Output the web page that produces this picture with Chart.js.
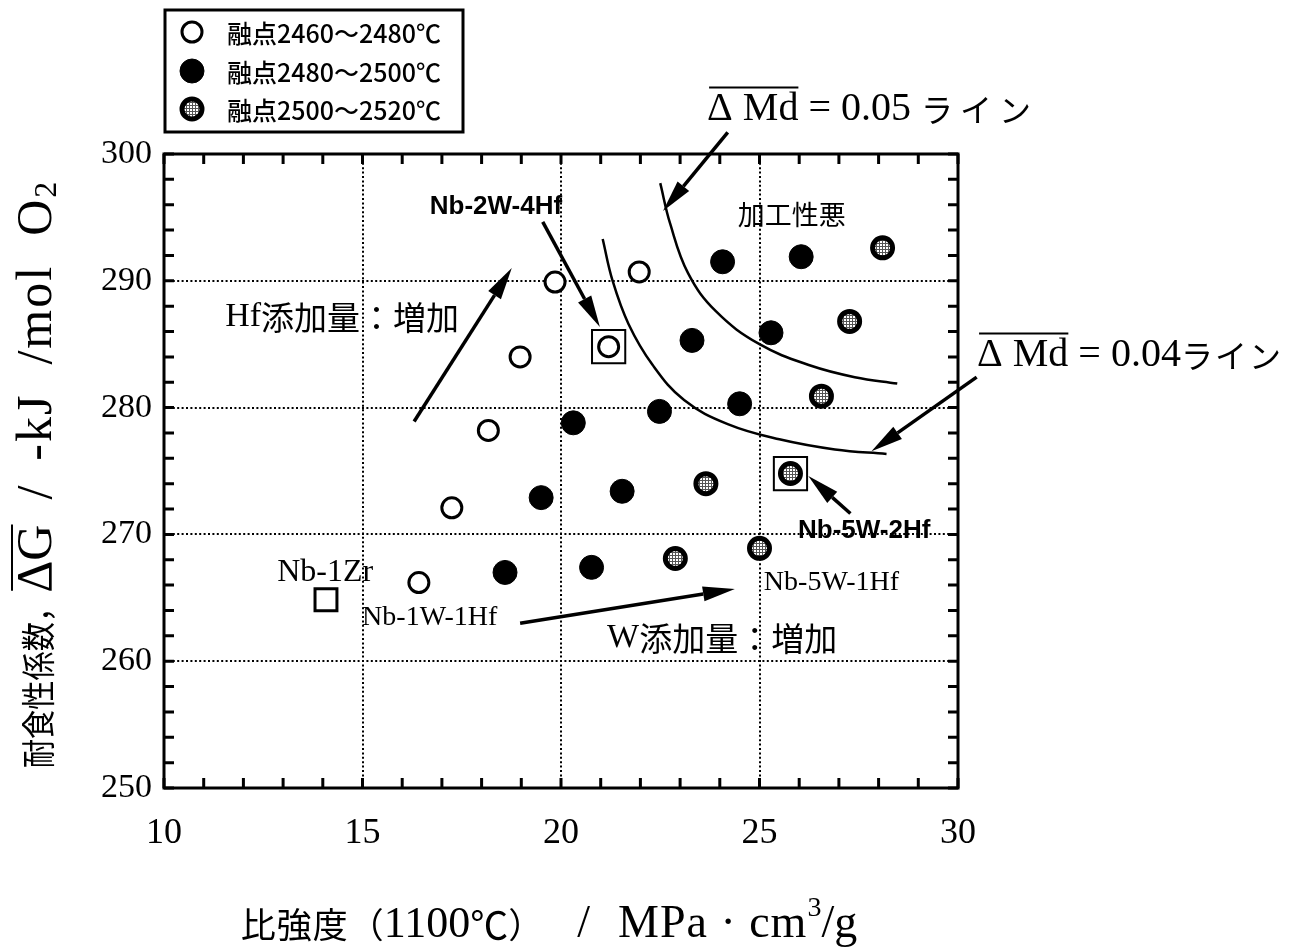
<!DOCTYPE html>
<html>
<head>
<meta charset="utf-8">
<script src="https://cdn.jsdelivr.net/npm/chart.js@4.4.1/dist/chart.umd.min.js"></script>
<style>
  html, body { margin: 0; padding: 0; background: #fff; }
  #wrap { width: 1304px; height: 950px; }
</style>
</head>
<body>
<div id="wrap"><canvas id="c" width="1304" height="950"></canvas></div>
<script>
// ---- data: specific strength (x) vs. corrosion coefficient (y) ----
const meltLabels = ['融点2460～2480℃', '融点2480～2500℃', '融点2500～2520℃'];

// melting point 2460-2480 C
const lowX = [19.85, 21.97, 18.97, 21.2, 18.17, 17.25, 16.42];
const lowY = [289.9, 290.7, 284.0, 284.8, 278.2, 272.1, 266.2];
// melting point 2480-2500 C
const midX = [24.07, 26.05, 23.3, 25.29, 20.31, 22.48, 24.5, 19.5, 21.54, 18.59, 20.77];
const midY = [291.5, 291.9, 285.3, 285.9, 278.8, 279.7, 280.3, 272.9, 273.4, 267.0, 267.4];
// melting point 2500-2520 C
const highX = [28.1, 27.27, 26.56, 25.78, 23.65, 22.88, 25.0];
const highY = [292.6, 286.8, 280.9, 274.8, 274.0, 268.1, 268.9];

// reference alloy Nb-1Zr
const refX = [14.08];
const refY = [264.85];
// boxed alloys: Nb-2W-4Hf, Nb-5W-2Hf
const boxedX = [21.2, 25.78];
const boxedY = [284.8, 274.8];

// iso-lines of mean Md
const md05X = [22.5, 22.75, 23.2, 23.9, 25.0, 26.3, 27.4, 28.47];
const md05Y = [297.7, 294.5, 290.6, 287.6, 285.0, 283.3, 282.4, 281.9];
const md04X = [21.05, 21.3, 21.7, 22.3, 23.1, 24.2, 25.5, 26.9, 28.2];
const md04Y = [293.3, 290.0, 286.6, 283.4, 280.6, 278.7, 277.5, 276.7, 276.35];

// axis ticks
const xMin = 10, xMax = 30, xStep = 1, xLabelEvery = 5;
const yMin = 250, yMax = 300, yStep = 2, yLabelEvery = 10;

const pts = (xs, ys) => xs.map((v, i) => ({ x: v, y: ys[i] }));

// crosshatch fill for the highest melting-point group
function meshPattern() {
  const c = document.createElement('canvas');
  c.width = 3; c.height = 3;
  const g = c.getContext('2d');
  g.fillStyle = '#fff'; g.fillRect(0, 0, 3, 3);
  g.fillStyle = '#555';
  g.fillRect(0, 0, 3, 1);
  g.fillRect(0, 0, 1, 3);
  return g.createPattern(c, 'repeat');
}
const mesh = meshPattern();

const SERIF = '"Liberation Serif", "DejaVu Serif", serif';
const SANS = '"Liberation Sans", "DejaVu Sans", sans-serif';
const JP = '"Noto Sans CJK JP", sans-serif';

// arrows [fromX, fromY, toX, toY] in data units
const arrows = [
  [24.2, 301.7, 22.57, 295.5],
  [30.47, 282.4, 27.82, 276.55],
  [19.54, 294.65, 20.98, 286.35],
  [16.3, 278.9, 18.76, 291.0],
  [18.97, 263.0, 24.38, 265.7],
  [27.29, 271.65, 26.23, 274.6]
];

// text notes placed in data units
const notes = [
  { parts: [{ t: 'Nb-2W-4Hf', f: 'bold 26px ' + SANS }], x: 18.36, y: 295.8, align: 'center' },
  { parts: [{ t: '加工性悪', f: '27px ' + JP }], x: 25.81, y: 295.2, align: 'center' },
  { parts: [{ t: 'Hf', f: '34px ' + SERIF }, { t: '添加量：増加', f: '33px ' + JP }], x: 11.54, y: 287.1, align: 'left' },
  { parts: [{ t: 'W', f: '34px ' + SERIF }, { t: '添加量：増加', f: '33px ' + JP }], x: 21.16, y: 261.8, align: 'left' },
  { parts: [{ t: 'Nb-1Zr', f: '32px ' + SERIF }], x: 12.85, y: 267.0, align: 'left' },
  { parts: [{ t: 'Nb-1W-1Hf', f: '28px ' + SERIF }], x: 14.99, y: 263.4, align: 'left' },
  { parts: [{ t: 'Nb-5W-1Hf', f: '28px ' + SERIF }], x: 25.11, y: 266.2, align: 'left' },
  { parts: [{ t: 'Nb-5W-2Hf', f: 'bold 26px ' + SANS }], x: 25.97, y: 270.3, align: 'left' },
  { parts: [{ t: 'Δ Md', f: '40px ' + SERIF, over: 22 }, { t: ' = 0.05 ', f: '40px ' + SERIF }, { t: 'ライン', f: '32px ' + JP, ls: 7 }], x: 23.68, y: 303.5, align: 'left' },
  { parts: [{ t: 'Δ Md', f: '40px ' + SERIF, over: 22 }, { t: ' = 0.04', f: '40px ' + SERIF }, { t: 'ライン', f: '32px ' + JP, ls: 2 }], x: 30.48, y: 284.1, align: 'left' }
];

const xTitle = [
  { t: '比強度', f: '35px ' + JP, ls: 1 },
  { t: '（', f: '35px ' + JP },
  { t: '1100', f: '44px ' + SERIF },
  { t: '℃', f: '38px ' + JP },
  { t: '）', f: '35px ' + JP, gap: 34 },
  { t: '/', f: '46px ' + SERIF, gap: 28 },
  { t: 'MPa · cm', f: '46px ' + SERIF, ls: 1 },
  { t: '3', f: '28px ' + SERIF, dy: -16 },
  { t: '/g', f: '46px ' + SERIF }
];
const yTitle = [
  { t: '耐食性係数，', f: '34px ' + JP, sx: 0.86 },
  { t: 'ΔG', f: '50px ' + SERIF, over: 26 },
  { t: '  /  ', f: '50px ' + SERIF },
  { t: '-kJ  /mol  O', f: '50px ' + SERIF, ls: 2 },
  { t: '2', f: '32px ' + SERIF, dy: 10 }
];

function richText(ctx, parts, x, y, align, angle) {
  ctx.save();
  ctx.translate(x, y);
  if (angle) ctx.rotate(angle);
  ctx.textBaseline = 'middle';
  ctx.textAlign = 'left';
  const widths = parts.map(p => {
    ctx.font = p.f;
    ctx.letterSpacing = (p.ls || 0) + 'px';
    return ctx.measureText(p.t).width * (p.sx || 1) + (p.gap || 0);
  });
  const total = widths.reduce((a, b) => a + b, 0);
  let cx = align === 'center' ? -total / 2 : 0;
  parts.forEach((p, i) => {
    ctx.font = p.f;
    ctx.letterSpacing = (p.ls || 0) + 'px';
    ctx.save();
    ctx.translate(cx, 0);
    ctx.scale(p.sx || 1, 1);
    ctx.fillText(p.t, 0, p.dy || 0);
    ctx.restore();
    if (p.over) {
      ctx.lineWidth = 2;
      ctx.beginPath();
      ctx.moveTo(cx + 2, -p.over);
      ctx.lineTo(cx + widths[i] - (p.gap || 0), -p.over);
      ctx.stroke();
    }
    cx += widths[i];
  });
  ctx.restore();
}

function drawArrow(ctx, x1, y1, x2, y2) {
  const ang = Math.atan2(y2 - y1, x2 - x1);
  const len = 32, half = 7.5;
  const bx = x2 - len * Math.cos(ang), by = y2 - len * Math.sin(ang);
  ctx.lineWidth = 3.5;
  ctx.beginPath(); ctx.moveTo(x1, y1); ctx.lineTo(bx, by); ctx.stroke();
  ctx.beginPath();
  ctx.moveTo(x2, y2);
  ctx.lineTo(bx + half * Math.sin(ang), by - half * Math.cos(ang));
  ctx.lineTo(bx - half * Math.sin(ang), by + half * Math.cos(ang));
  ctx.closePath(); ctx.fill();
}

const figureNotes = {
  id: 'figureNotes',
  afterDraw(chart) {
    const { ctx, chartArea: a, scales: { x, y } } = chart;
    const px = v => x.getPixelForValue(v), py = v => y.getPixelForValue(v);
    ctx.save();
    ctx.strokeStyle = '#000'; ctx.fillStyle = '#000';

    // frame with inward ticks on all four sides
    ctx.lineWidth = 3;
    ctx.strokeRect(a.left, a.top, a.right - a.left, a.bottom - a.top);
    ctx.beginPath();
    x.ticks.forEach(t => {
      const X = px(t.value);
      ctx.moveTo(X, a.bottom); ctx.lineTo(X, a.bottom - 10);
      ctx.moveTo(X, a.top); ctx.lineTo(X, a.top + 10);
    });
    y.ticks.forEach(t => {
      const Y = py(t.value);
      ctx.moveTo(a.left, Y); ctx.lineTo(a.left + 10, Y);
      ctx.moveTo(a.right, Y); ctx.lineTo(a.right - 10, Y);
    });
    ctx.stroke();

    // arrows
    arrows.forEach(r => drawArrow(ctx, px(r[0]), py(r[1]), px(r[2]), py(r[3])));

    // notes
    notes.forEach(n => richText(ctx, n.parts, px(n.x), py(n.y), n.align));

    // axis titles
    richText(ctx, xTitle, 549, 925, 'center');
    richText(ctx, yTitle, 38, 475, 'center', -Math.PI / 2);

    // legend box
    const ds = chart.data.datasets;
    ctx.lineWidth = 3;
    ctx.strokeRect(165, 10, 298, 122);
    const rows = [32, 71, 109];
    for (let i = 0; i < 3; i++) {
      const d = ds[i];
      const cy = rows[i], cx = 192;
      ctx.beginPath();
      ctx.arc(cx, cy, d.pointRadius, 0, Math.PI * 2);
      ctx.fillStyle = d.pointBackgroundColor;
      ctx.fill();
      ctx.lineWidth = d.pointBorderWidth;
      ctx.strokeStyle = '#000';
      ctx.stroke();
      ctx.fillStyle = '#000';
      ctx.font = '500 25px ' + JP;
      ctx.textBaseline = 'middle';
      ctx.textAlign = 'left';
      ctx.letterSpacing = '0px';
      ctx.fillText(d.label, 227, cy + 1);
    }
    ctx.restore();
  }
};

const gridColor = (every) => (c) => {
  const v = c.tick ? c.tick.value : null;
  if (v === null) return 'rgba(0,0,0,0)';
  return (Math.abs(v % every) < 1e-6 && c.index > 0 && c.index < c.scale.ticks.length - 1) ? '#000' : 'rgba(0,0,0,0)';
};

const curveStyle = { showLine: true, pointRadius: 0, borderColor: '#000', borderWidth: 2.5, tension: 0.4, fill: false };

new Chart(document.getElementById('c'), {
  type: 'scatter',
  data: {
    datasets: [
      { label: meltLabels[0], data: pts(lowX, lowY), pointStyle: 'circle', pointRadius: 10,
        pointBorderWidth: 3, pointBackgroundColor: '#fff', pointBorderColor: '#000' },
      { label: meltLabels[1], data: pts(midX, midY), pointStyle: 'circle', pointRadius: 12,
        pointBorderWidth: 1, pointBackgroundColor: '#000', pointBorderColor: '#000' },
      { label: meltLabels[2], data: pts(highX, highY), pointStyle: 'circle', pointRadius: 10,
        pointBorderWidth: 5, pointBackgroundColor: mesh, pointBorderColor: '#000' },
      { label: 'Nb-1Zr', data: pts(refX, refY), pointStyle: 'rect', pointRadius: 15.5,
        pointBorderWidth: 3, pointBackgroundColor: 'rgba(0,0,0,0)', pointBorderColor: '#000' },
      { label: 'boxed', data: pts(boxedX, boxedY), pointStyle: 'rect', pointRadius: 23.5,
        pointBorderWidth: 2, pointBackgroundColor: 'rgba(0,0,0,0)', pointBorderColor: '#000' },
      Object.assign({ label: 'ΔMd = 0.05', data: pts(md05X, md05Y) }, curveStyle),
      Object.assign({ label: 'ΔMd = 0.04', data: pts(md04X, md04Y) }, curveStyle)
    ]
  },
  options: {
    responsive: false,
    animation: false,
    events: [],
    layout: { padding: { left: 0, top: 154, right: 346, bottom: 0 } },
    scales: {
      x: {
        type: 'linear', min: xMin, max: xMax,
        afterFit: s => { s.height = 162; },
        ticks: {
          stepSize: xStep, autoSkip: false, maxRotation: 0, padding: 24,
          color: '#000', font: { family: SERIF, size: 36 },
          callback: v => (v % xLabelEvery === 0 ? v : '')
        },
        grid: { drawTicks: false, lineWidth: 2, color: gridColor(xLabelEvery) },
        border: { display: false, dash: [2, 2.4] }
      },
      y: {
        type: 'linear', min: yMin, max: yMax,
        afterFit: s => { s.width = 164; },
        ticks: {
          stepSize: yStep, autoSkip: false, padding: 12,
          color: '#000', font: { family: SERIF, size: 34 },
          callback: v => (v % yLabelEvery === 0 ? v : '')
        },
        grid: { drawTicks: false, lineWidth: 2, color: gridColor(yLabelEvery) },
        border: { display: false, dash: [2, 2.4] }
      }
    },
    plugins: { legend: { display: false }, tooltip: { enabled: false } }
  },
  plugins: [figureNotes]
});
</script>
</body>
</html>
